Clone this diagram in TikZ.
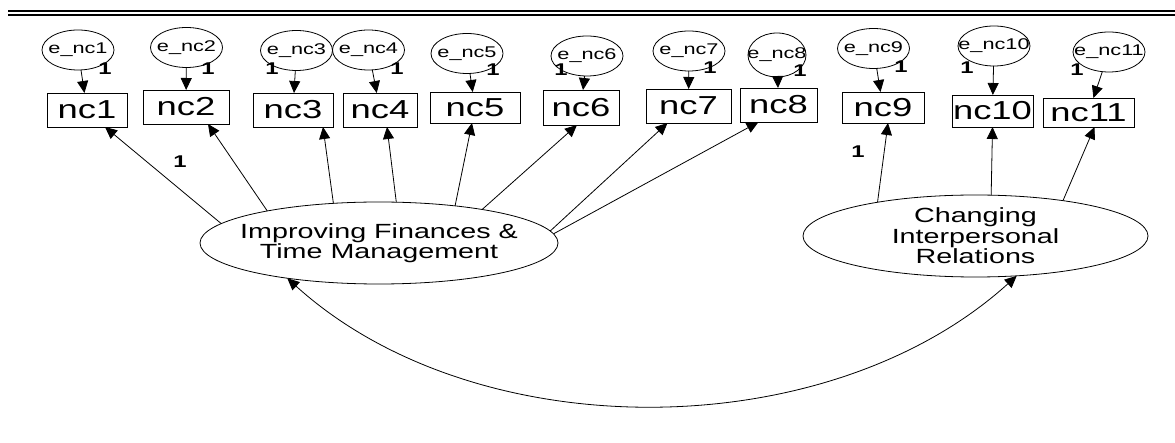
\documentclass[tikz,border=0pt]{standalone}
\usepackage{fontspec}
\setmainfont{Liberation Sans}[FakeStretch=1.4]
\usetikzlibrary{shapes.geometric,arrows.meta}
\begin{document}
\begin{tikzpicture}[x=1pt,y=-1pt,line cap=butt,line join=miter,>={Triangle[length=12pt,width=11pt]},line width=0.8pt]
	\tikzset{obs/.style={draw,rectangle,inner sep=0pt,outer sep=0pt,font=\fontsize{26}{26}\selectfont},
		err/.style={draw,ellipse,inner sep=-12pt,outer sep=0pt,minimum width=72pt,minimum height=40pt,font=\fontsize{15.5}{15.5}\selectfont},
		lat/.style={draw,ellipse,inner sep=-40pt,outer sep=0pt,minimum height=82pt,align=center,font=\fontsize{20.5}{20.5}\selectfont},
		one/.style={inner sep=0pt,font=\bfseries\fontsize{17}{17}\selectfont}
	}
	\useasboundingbox (0,0) rectangle (1175,443);
	\draw[line width=2.3pt] (8,11)--(1175,11);
	\draw[line width=2pt] (8,14.8)--(1175,14.8);
	% observed variables
	\node[obs,minimum width=80pt,minimum height=34pt] (nc1) at (87,110) {nc1};
	\node[obs,minimum width=86pt,minimum height=34pt] (nc2) at (186,107) {nc2};
	\node[obs,minimum width=80pt,minimum height=34pt] (nc3) at (293,110) {nc3};
	\node[obs,minimum width=74pt,minimum height=34pt] (nc4) at (380,110) {nc4};
	\node[obs,minimum width=90pt,minimum height=31pt] (nc5) at (475,107.5) {nc5};
	\node[obs,minimum width=76pt,minimum height=35pt] (nc6) at (581,107.5) {nc6};
	\node[obs,minimum width=85pt,minimum height=34pt] (nc7) at (688.5,106) {nc7};
	\node[obs,minimum width=77pt,minimum height=34pt] (nc8) at (778.5,105) {nc8};
	\node[obs,minimum width=82pt,minimum height=31pt] (nc9) at (883,107.5) {nc9};
	\node[obs,minimum width=81pt,minimum height=32pt] (nc10) at (992.5,111) {nc10};
	\node[obs,minimum width=91pt,minimum height=29pt] (nc11) at (1088.5,112.5) {nc11};
	% error terms
	\node[err] (e1) at (78,50) {e\_nc1};
	\node[err] (e2) at (186.5,47.5) {e\_nc2};
	\node[err] (e3) at (296.5,50.5) {e\_nc3};
	\node[err] (e4) at (368.5,50) {e\_nc4};
	\node[err] (e5) at (467,53.5) {e\_nc5};
	\node[err] (e6) at (587,56) {e\_nc6};
	\node[err] (e7) at (689,51) {e\_nc7};
	\node[err,minimum width=58pt,minimum height=44pt] (e8) at (777,55) {e\_nc8};
	\node[err] (e9) at (873.5,48.5) {e\_nc9};
	\node[err] (e10) at (994,46) {e\_nc10};
	\node[err] (e11) at (1109,52) {e\_nc11};
	\foreach \i in {1,...,11}
		\draw[->] (e\i) -- (nc\i);
	\node[one] (w1) at (105,69) {1};
	\node[one] (w2) at (208,69) {1};
	\node[one] (w3) at (272,69) {1};
	\node[one] (w4) at (397,69) {1};
	\node[one] (w5) at (493,70) {1};
	\node[one] (w6) at (561,70) {1};
	\node[one] (w7) at (710,68) {1};
	\node[one] (w8) at (800,71) {1};
	\node[one] (w9) at (901,67) {1};
	\node[one] (w10) at (967,68) {1};
	\node[one] (w11) at (1077,70) {1};
	% latent factors
	\node[lat,minimum width=358pt] (F1) at (379,243) {Improving Finances \&\\Time Management};
	\node[lat,minimum width=345pt] (F2) at (975.5,236) {Changing\\Interpersonal\\Relations};
	\draw[->] (F1.173.6) -- ([xshift=18pt]nc1.south);
	\draw[->] (F1.164.2) -- ([xshift=22pt]nc2.south);
	\draw[->] (F1.139.6) -- ([xshift=30pt]nc3.south);
	\draw[->] (F1.67.5) -- ([xshift=7pt]nc4.south);
	\draw[->] (F1.26) -- ([xshift=-3pt]nc5.south);
	\draw[->] (F1.18.1) -- ([xshift=-4pt]nc6.south);
	\draw[->] (F1.4.8) -- ([xshift=-21pt]nc7.south);
	\draw[->] (F1.3.2) -- ([xshift=-20pt]nc8.south);
	\draw[->] (F2.161.4) -- ([xshift=5pt]nc9.south);
	\draw[->] (F2.69.3) -- (nc10.south);
	\draw[->] (F2.22) -- ([xshift=6pt]nc11.south);
	\node[one] (l1) at (180,162) {1};
	\node[one] (l9) at (858,152) {1};
	% covariance
	\draw[<->] (F1.201) .. controls +(189,171) and +(-189,171) .. (F2.316);
\end{tikzpicture}
\end{document}
